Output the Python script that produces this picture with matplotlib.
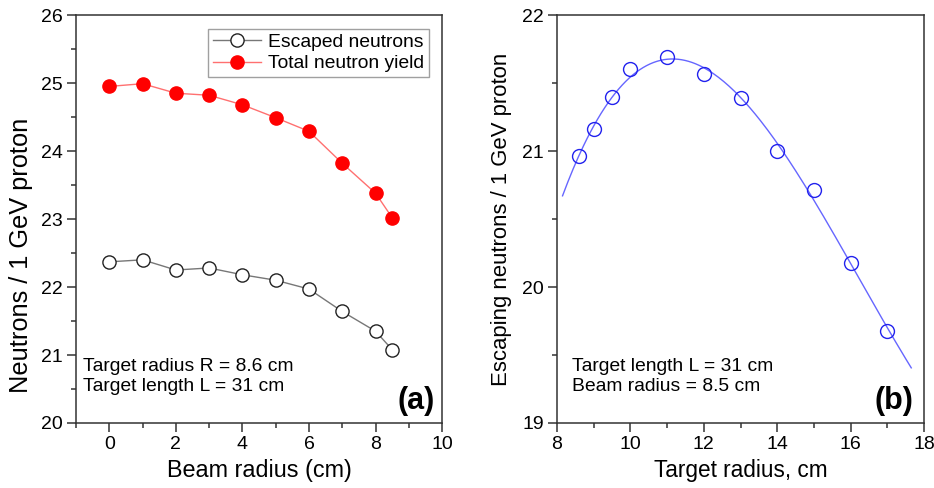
import numpy as np
import matplotlib.pyplot as plt
from matplotlib.ticker import MultipleLocator

plt.rcParams['font.family'] = ['Liberation Sans', 'DejaVu Sans']

# panel (a): neutrons vs beam radius
beam_r = [0, 1, 2, 3, 4, 5, 6, 7, 8, 8.5]
escaped = [22.37, 22.40, 22.25, 22.28, 22.18, 22.10, 21.97, 21.64, 21.35, 21.08]
total = [24.95, 24.99, 24.85, 24.82, 24.68, 24.49, 24.29, 23.82, 23.38, 23.02]

# panel (b): escaping neutrons vs target radius
target_r = [8.6, 9, 9.5, 10, 11, 12, 13, 14, 15, 16, 17]
escaping = [20.96, 21.16, 21.40, 21.60, 21.69, 21.57, 21.39, 21.00, 20.71, 20.18, 19.68]
fit_range = [8.15, 17.65]

fig = plt.figure(figsize=(9.34, 4.88), dpi=100)
ax1 = fig.add_axes([0.0814, 0.1332, 0.3919, 0.836])
ax2 = fig.add_axes([0.5964, 0.1332, 0.393, 0.836])

spine_col = '#333333'
for ax in (ax1, ax2):
    for s in ax.spines.values():
        s.set_color(spine_col)
        s.set_linewidth(1.1)
    ax.tick_params(which='both', direction='out', top=False, right=False,
                   labelsize=14, color=spine_col, pad=3)
    ax.tick_params(which='major', length=6.5, width=1.1)
    ax.tick_params(which='minor', length=3.5, width=1.1)

# (a)
ax1.plot(beam_r, escaped, color='#777777', lw=1, marker='o', ms=9.5,
         mfc='white', mec='#222222', mew=1.0, label='Escaped neutrons')
ax1.plot(beam_r, total, color='#ff7070', lw=1, marker='o', ms=9.5,
         mfc='#ff0000', mec='#ff0000', label='Total neutron yield')
ax1.set_xlim(-1, 10)
ax1.set_ylim(20, 26)
ax1.xaxis.set_major_locator(MultipleLocator(2))
ax1.xaxis.set_minor_locator(MultipleLocator(1))
ax1.yaxis.set_major_locator(MultipleLocator(1))
ax1.yaxis.set_minor_locator(MultipleLocator(0.5))
ax1.set_xlabel('Beam radius (cm)', fontsize=16.8, labelpad=4)
ax1.set_ylabel('Neutrons / 1 GeV proton', fontsize=18.3, labelpad=6)
ax1.yaxis.label.set_y(0.41)
leg = ax1.legend(loc='upper right', fontsize=13.9, frameon=True, fancybox=False,
                 edgecolor='#888888', borderpad=0.25, labelspacing=0.2,
                 handlelength=2.5, handletextpad=0.35, borderaxespad=0.7)
leg.get_frame().set_linewidth(1.0)
ax1.text(0.02, 0.115, 'Target radius R = 8.6 cm\nTarget length L = 31 cm',
         transform=ax1.transAxes, fontsize=13.9, va='center', ha='left',
         linespacing=1.22)
ax1.text(0.98, 0.055, '(a)', transform=ax1.transAxes, fontsize=22,
         fontweight='bold', ha='right', va='center')

# (b)
coef = np.polyfit(target_r, escaping, 3)
xf = np.linspace(fit_range[0], fit_range[1], 200)
ax2.plot(xf, np.polyval(coef, xf), color='#6666ff', lw=1)
ax2.plot(target_r, escaping, ls='none', marker='o', ms=10, mfc='none',
         mec='#2222ee', mew=1.0)
ax2.set_xlim(8, 18)
ax2.set_ylim(19, 22)
ax2.xaxis.set_major_locator(MultipleLocator(2))
ax2.xaxis.set_minor_locator(MultipleLocator(1))
ax2.yaxis.set_major_locator(MultipleLocator(1))
ax2.yaxis.set_minor_locator(MultipleLocator(0.5))
ax2.set_xlabel('Target radius, cm', fontsize=16.3, labelpad=4)
ax2.set_ylabel('Escaping neutrons / 1 GeV proton', fontsize=15.9, labelpad=7)
ax2.text(0.04, 0.115, 'Target length L = 31 cm\nBeam radius = 8.5 cm',
         transform=ax2.transAxes, fontsize=13.9, va='center', ha='left',
         linespacing=1.22)
ax2.text(0.97, 0.055, '(b)', transform=ax2.transAxes, fontsize=22,
         fontweight='bold', ha='right', va='center')

fig.savefig('out.png', dpi=100)
